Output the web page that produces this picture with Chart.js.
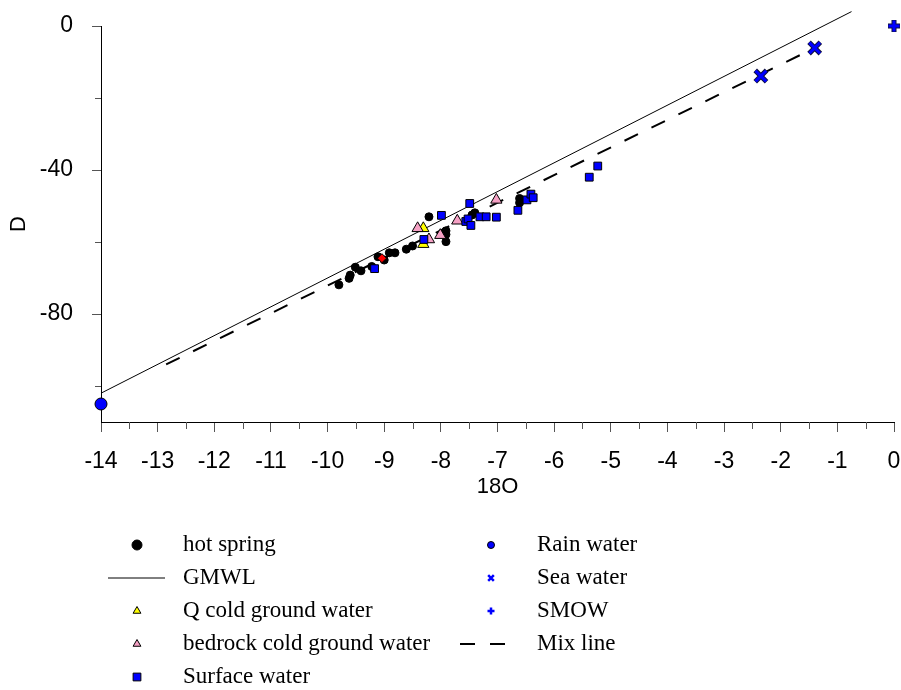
<!DOCTYPE html>
<html>
<head>
<meta charset="utf-8">
<title>Isotope plot</title>
<script src="https://cdn.jsdelivr.net/npm/chart.js@4/dist/chart.umd.min.js"></script>
<style>
  body { margin: 0; background: #fff; }
</style>
</head>
<body>
<canvas id="isoChart" width="901" height="690"></canvas>
<script>
// values (x = 18O, y = D)
const hotSpringX = [-9.80, -9.62, -9.60, -9.51, -9.41, -9.22, -9.11, -9.00, -8.91, -8.81, -8.61, -8.50, -8.21, -7.91, -7.91, -7.91, -7.40, -7.45, -6.61, -6.61];
const hotSpringY = [-71.9, -70.1, -69.2, -67.0, -68.0, -66.8, -64.1, -65.0, -63.0, -63.0, -62.0, -61.1, -53.0, -56.9, -57.9, -59.9, -51.9, -52.5, -47.9, -49.1];

const qColdX = [-8.31, -8.31];
const qColdY = [-56.2, -60.6];

const bedrockX = [-8.41, -8.21, -8.01, -7.71, -7.02];
const bedrockY = [-56.2, -59.3, -58.1, -54.1, -48.3];

const surfaceX = [-9.17, -8.30, -7.99, -7.49, -7.56, -7.52, -7.47, -7.31, -7.20, -7.02, -6.64, -6.48, -6.41, -6.37, -5.38, -5.23];
const surfaceY = [-67.4, -59.3, -52.6, -49.3, -54.3, -53.6, -55.4, -53.0, -53.0, -53.1, -51.2, -48.3, -46.7, -47.7, -42.0, -38.9];

const redX = [-9.04];
const redY = [-64.5];

const rainX = [-14];
const rainY = [-105];

const seaX = [-2.35, -1.40];
const seaY = [-13.9, -6.1];

const smowX = [0];
const smowY = [0];

const gmwlX = [-14, -0.75];
const gmwlY = [-102, 4];

const mixX = [-12.85, -1.40];
const mixY = [-94, -6.1];

const xMajorTicks = [-14, -13, -12, -11, -10, -9, -8, -7, -6, -5, -4, -3, -2, -1, 0];
const xMinorTicks = [-13.5, -12.5, -11.5, -10.5, -9.5, -8.5, -7.5, -6.5, -5.5, -4.5, -3.5, -2.5, -1.5, -0.5];
const yMajorTicks = [0, -40, -80];
const yMinorTicks = [-20, -60, -100];

const toPoints = (xs, ys) => xs.map((x, i) => ({ x, y: ys[i] }));

const sansFont = 'Liberation Sans, Arial, sans-serif';
const serifFont = 'Liberation Serif, Times New Roman, serif';

// where each series goes in the legend: [column, row]
const legendSlots = {
  'hot spring': [0, 0],
  'GMWL': [0, 1],
  'Q cold ground water': [0, 2],
  'bedrock cold ground water': [0, 3],
  'Surface water': [0, 4],
  'Rain water': [1, 0],
  'Sea water': [1, 1],
  'SMOW': [1, 2],
  'Mix line': [1, 3],
};

const minorTicks = {
  id: 'minorTicks',
  afterDraw(chart) {
    const { ctx, scales: { x, y } } = chart;
    ctx.save();
    ctx.strokeStyle = '#555';
    ctx.lineWidth = 1;
    ctx.beginPath();
    xMinorTicks.forEach(v => {
      const px = Math.round(x.getPixelForValue(v)) + 0.5;
      ctx.moveTo(px, x.top);
      ctx.lineTo(px, x.top + 7);
    });
    yMinorTicks.forEach(v => {
      const py = Math.round(y.getPixelForValue(v)) + 0.5;
      ctx.moveTo(y.right, py);
      ctx.lineTo(y.right - 6, py);
    });
    ctx.stroke();
    ctx.restore();
  }
};

const bottomLegend = {
  id: 'bottomLegend',
  afterDraw(chart) {
    const ctx = chart.ctx;
    ctx.save();
    ctx.font = '23px ' + serifFont;
    ctx.textBaseline = 'middle';
    chart.data.datasets.forEach(ds => {
      const slot = legendSlots[ds.label];
      if (!slot || ds.outline) return;
      const markX = slot[0] === 0 ? 137 : 491;
      const textX = slot[0] === 0 ? 183 : 537;
      const rowY = 545 + slot[1] * 33;
      if (ds.showLine) {
        ctx.strokeStyle = ds.borderColor;
        ctx.lineWidth = ds.borderWidth;
        ctx.setLineDash(ds.borderDash || []);
        ctx.beginPath();
        if (ds.borderDash) {
          ctx.moveTo(markX - 31, rowY);
          ctx.lineTo(markX + 19, rowY);
        } else {
          ctx.moveTo(markX - 29, rowY);
          ctx.lineTo(markX + 28, rowY);
        }
        ctx.stroke();
        ctx.setLineDash([]);
      } else {
        ctx.fillStyle = ds.backgroundColor;
        ctx.strokeStyle = ds.borderColor;
        ctx.lineWidth = ds.legendBorder;
        Chart.helpers.drawPoint(ctx, {
          pointStyle: ds.pointStyle,
          radius: ds.legendRadius,
          rotation: 0,
          borderWidth: ds.legendBorder
        }, markX, rowY);
      }
      ctx.fillStyle = '#000';
      ctx.fillText(ds.label, textX, rowY);
    });
    ctx.restore();
  }
};

new Chart(document.getElementById('isoChart'), {
  type: 'scatter',
  data: {
    datasets: [
      {
        label: 'Surface water', data: toPoints(surfaceX, surfaceY), order: 1,
        pointStyle: 'rect', pointRadius: 5.5, backgroundColor: '#0000ff', borderColor: '#000', borderWidth: 1,
        legendRadius: 5.5, legendBorder: 1
      },
      {
        label: 'bedrock cold ground water', data: toPoints(bedrockX, bedrockY), order: 2,
        pointStyle: 'triangle', pointRadius: 6.5, backgroundColor: '#f5a0c4', borderColor: '#000', borderWidth: 1,
        legendRadius: 4.5, legendBorder: 1
      },
      {
        label: 'Q cold ground water', data: toPoints(qColdX, qColdY), order: 3,
        pointStyle: 'triangle', pointRadius: 6.5, backgroundColor: '#ffff00', borderColor: '#000', borderWidth: 1,
        legendRadius: 4.5, legendBorder: 1
      },
      {
        label: 'red', data: toPoints(redX, redY), order: 4,
        pointStyle: 'rectRot', pointRadius: 4.5, backgroundColor: '#ff0000', borderColor: '#000', borderWidth: 1
      },
      {
        label: 'hot spring', data: toPoints(hotSpringX, hotSpringY), order: 5,
        pointStyle: 'circle', pointRadius: 4, backgroundColor: '#000', borderColor: '#000', borderWidth: 1,
        legendRadius: 5, legendBorder: 1
      },
      {
        label: 'Rain water', data: toPoints(rainX, rainY), order: 5,
        pointStyle: 'circle', pointRadius: 6, backgroundColor: '#0000ff', borderColor: '#000', borderWidth: 1,
        legendRadius: 3.5, legendBorder: 1
      },
      {
        label: 'Sea water', data: toPoints(seaX, seaY), order: 5,
        pointStyle: 'crossRot', pointRadius: 7.5, backgroundColor: '#0000ff', borderColor: '#0000ff', borderWidth: 3,
        legendRadius: 4, legendBorder: 2.5
      },
      {
        label: 'Sea water', outline: true, data: toPoints(seaX, seaY), order: 6,
        pointStyle: 'crossRot', pointRadius: 8, backgroundColor: '#000', borderColor: '#101040', borderWidth: 5
      },
      {
        label: 'SMOW', data: toPoints(smowX, smowY), order: 5,
        pointStyle: 'cross', pointRadius: 5.5, backgroundColor: '#0000ff', borderColor: '#0000ff', borderWidth: 3,
        legendRadius: 3.5, legendBorder: 2.5
      },
      {
        label: 'SMOW', outline: true, data: toPoints(smowX, smowY), order: 6,
        pointStyle: 'cross', pointRadius: 6, backgroundColor: '#000', borderColor: '#101040', borderWidth: 5
      },
      {
        label: 'GMWL', data: toPoints(gmwlX, gmwlY), order: 7,
        showLine: true, pointRadius: 0, borderColor: '#000', borderWidth: 1
      },
      {
        label: 'Mix line', data: toPoints(mixX, mixY), order: 8,
        showLine: true, pointRadius: 0, borderColor: '#000', borderWidth: 2, borderDash: [15, 15]
      }
    ]
  },
  options: {
    responsive: false,
    animation: false,
    clip: false,
    layout: { autoPadding: false, padding: { top: 26, right: 7, bottom: 188, left: 0 } },
    plugins: {
      legend: { display: false },
      tooltip: { enabled: false }
    },
    scales: {
      x: {
        type: 'linear',
        min: -14,
        max: 0,
        afterBuildTicks: s => { s.ticks = xMajorTicks.map(v => ({ value: v })); },
        afterFit: s => { s.height = 80; s.paddingLeft = 0; s.paddingRight = 0; },
        ticks: { color: '#000', font: { family: sansFont, size: 23 }, padding: 16, maxRotation: 0, autoSkip: false },
        grid: { drawOnChartArea: false, tickLength: 10, tickColor: '#555' },
        border: { color: '#000', width: 1 },
        title: { display: true, text: '18O', color: '#000', font: { family: sansFont, size: 22 }, padding: { top: 0, bottom: 2 } }
      },
      y: {
        type: 'linear',
        min: -110,
        max: 0,
        afterBuildTicks: s => { s.ticks = yMajorTicks.map(v => ({ value: v })); },
        afterFit: s => { s.width = 101; s.paddingTop = 0; s.paddingBottom = 0; },
        ticks: { color: '#000', font: { family: sansFont, size: 23 }, padding: 19 },
        grid: { drawOnChartArea: false, tickLength: 9, tickColor: '#555' },
        border: { color: '#000', width: 1 },
        title: { display: true, text: 'D', color: '#000', font: { family: sansFont, size: 22 }, padding: { top: 6, bottom: 0 } }
      }
    }
  },
  plugins: [minorTicks, bottomLegend]
});
</script>
</body>
</html>
